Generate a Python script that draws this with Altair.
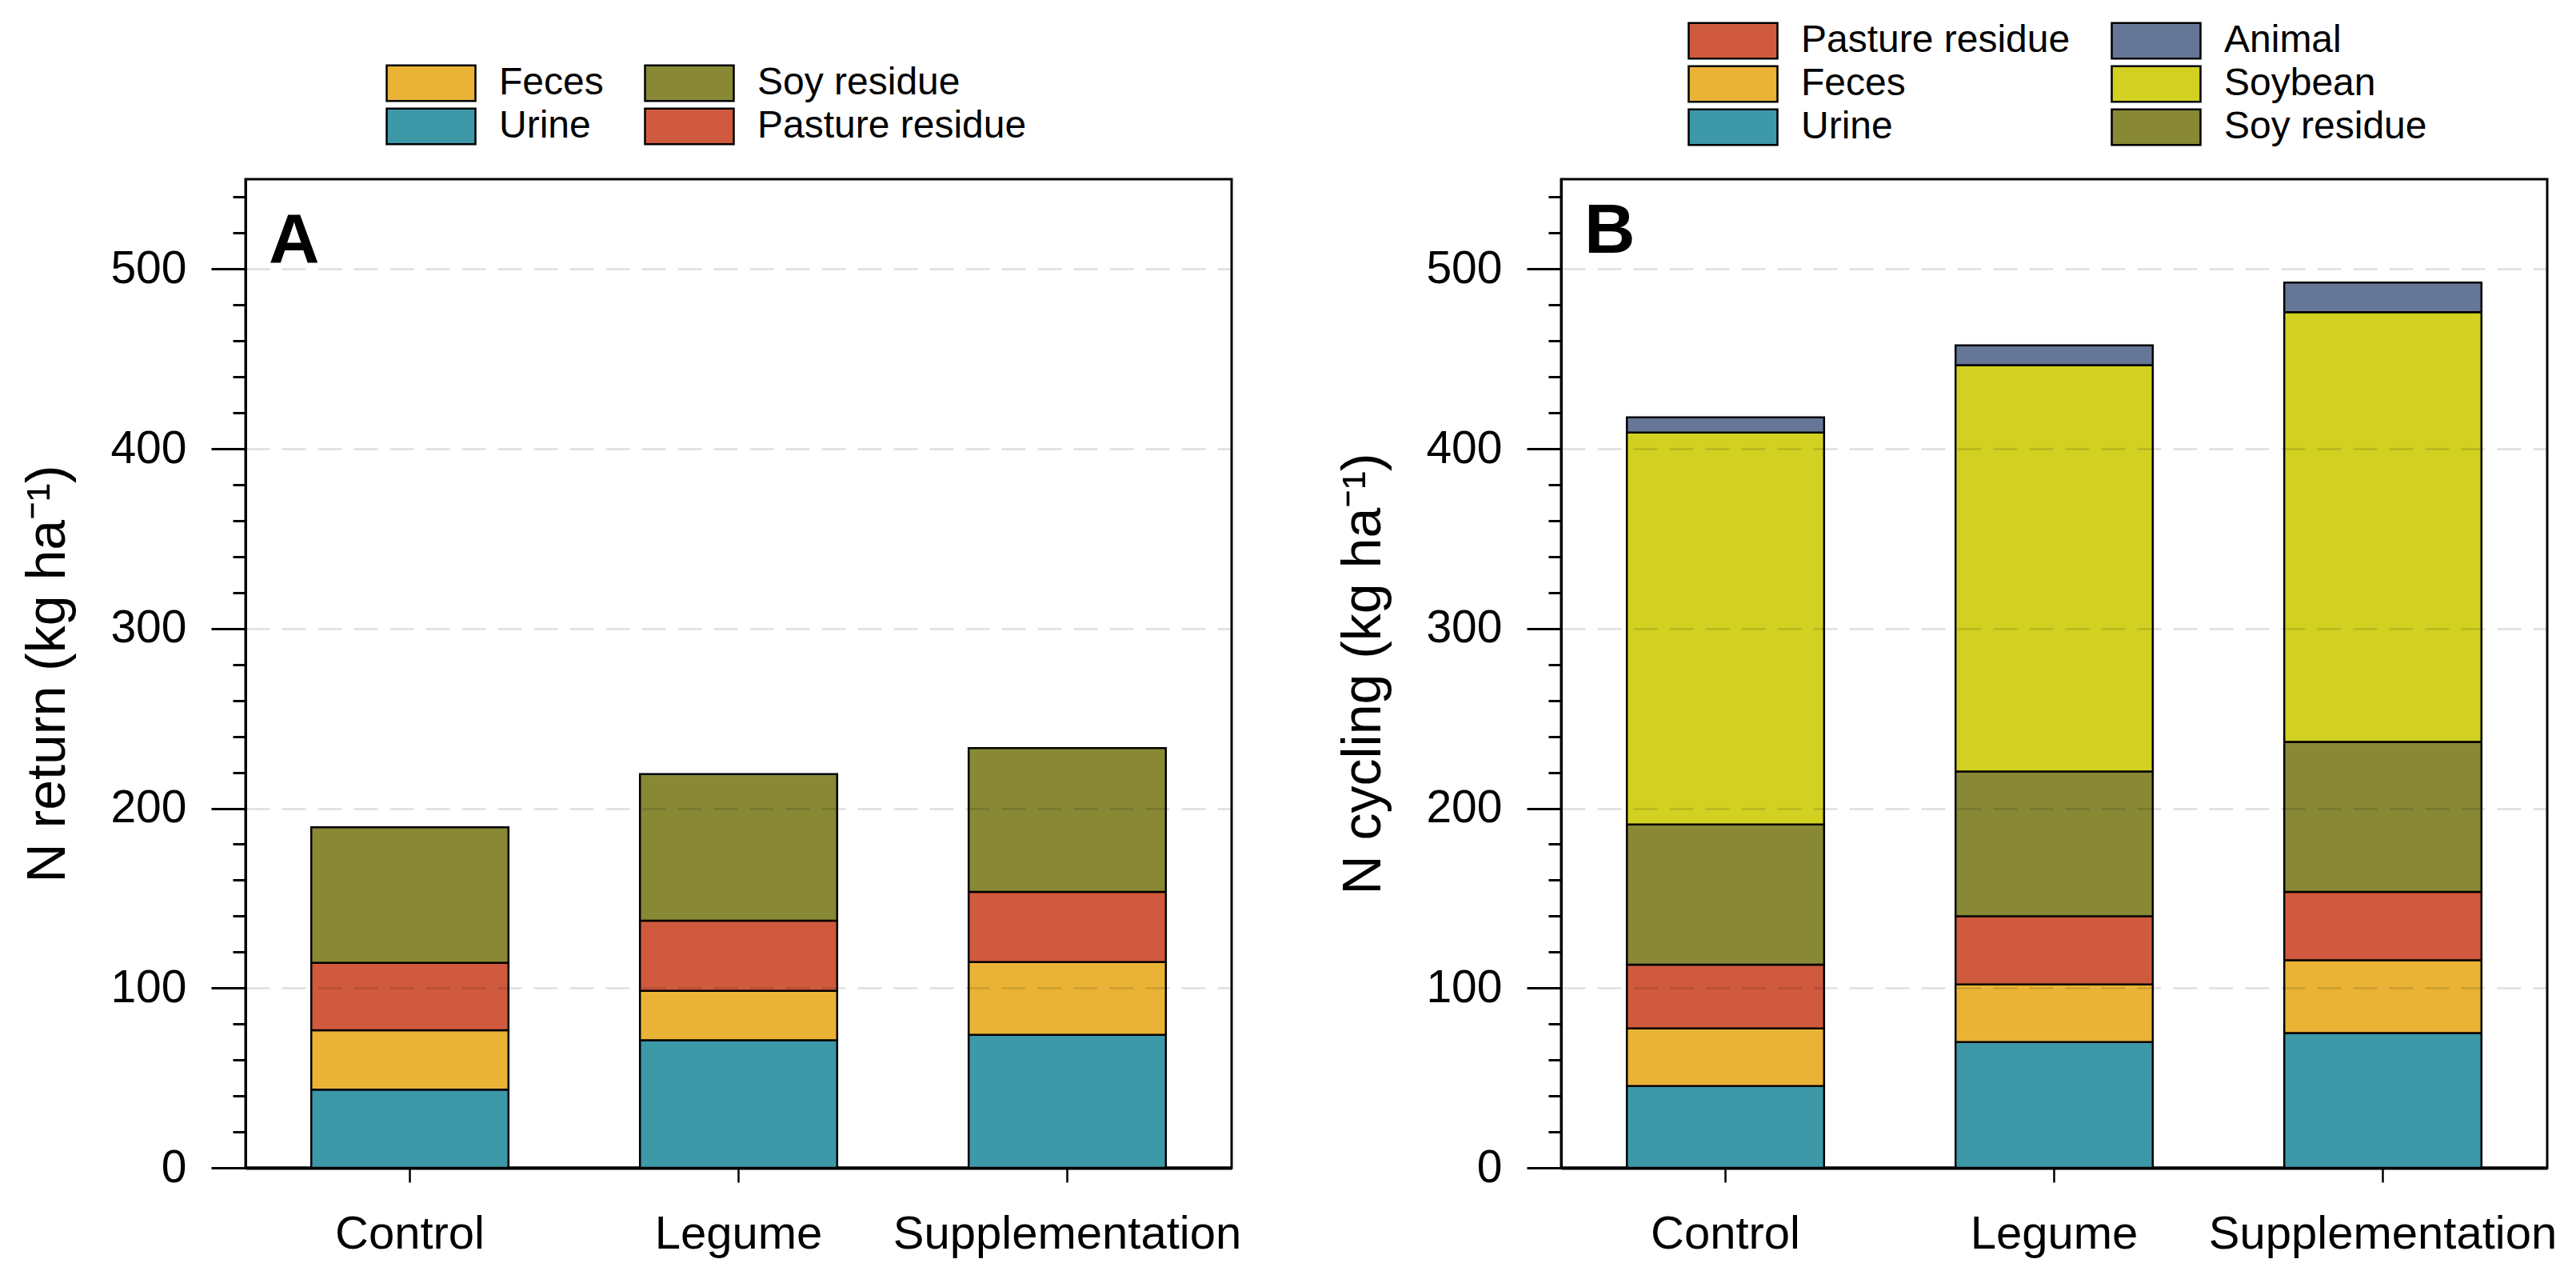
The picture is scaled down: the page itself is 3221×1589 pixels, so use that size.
import altair as alt
import pandas as pd

categories = ["Control", "Legume", "Supplementation"]

# Panel A: N return (kg ha-1), stacked bottom -> top
a_sources = ["Urine", "Feces", "Pasture residue", "Soy residue"]
a_urine = [43.5, 71.0, 74.0]
a_feces = [33.0, 27.5, 40.5]
a_pasture = [37.5, 39.0, 39.0]
a_soyres = [75.5, 81.5, 80.0]

# Panel B: N cycling (kg ha-1), stacked bottom -> top
b_sources = ["Urine", "Feces", "Pasture residue", "Soy residue", "Soybean", "Animal"]
b_urine = [45.5, 70.0, 75.0]
b_feces = [32.0, 32.0, 40.5]
b_pasture = [35.5, 38.0, 38.0]
b_soyres = [78.0, 80.5, 83.5]
b_soybean = [218.0, 226.0, 239.0]
b_animal = [8.5, 11.0, 16.5]

colors = {
    "Urine": "#3D98A8",
    "Feces": "#EAB336",
    "Pasture residue": "#D05A3E",
    "Soy residue": "#888835",
    "Soybean": "#D2D122",
    "Animal": "#667696",
}

# legend entries, column by column
a_legend_order = ["Feces", "Urine", "Soy residue", "Pasture residue"]
b_legend_order = ["Pasture residue", "Feces", "Urine", "Animal", "Soybean", "Soy residue"]

y_ticks = list(range(0, 551, 20))

FONT = "Liberation Sans"


def long_table(sources, series):
    rows = []
    for rank, (s, vals) in enumerate(zip(sources, series)):
        for c, v in zip(categories, vals):
            rows.append({"treatment": c, "source": s, "value": v, "rank": rank})
    return pd.DataFrame(rows)


df_a = long_table(a_sources, [a_urine, a_feces, a_pasture, a_soyres])
df_b = long_table(b_sources, [b_urine, b_feces, b_pasture, b_soyres, b_soybean, b_animal])

W, H = 1233, 1236


def panel(df, legend_order, ytitle, letter, letter_y, legend_x, legend_y):
    bars = alt.Chart(df).mark_bar(stroke="black", strokeWidth=2.5).encode(
        x=alt.X(
            "treatment:N",
            sort=categories,
            scale=alt.Scale(paddingInner=0.4, paddingOuter=0.2),
            axis=alt.Axis(
                title=None, labelAngle=0, labelFontSize=58, labelColor="black",
                labelFont=FONT, labelLimit=1000, tickSize=18, tickWidth=2.5,
                tickColor="black", domainWidth=4, domainColor="black",
                labelPadding=36, grid=False,
            ),
        ),
        y=alt.Y(
            "value:Q",
            stack="zero",
            scale=alt.Scale(domain=[0, 550], nice=False, zero=True),
            axis=alt.Axis(
                title=ytitle, values=y_ticks,
                labelExpr="datum.value % 100 === 0 ? datum.label : ''",
                labelOverlap=False,
                tickSize={"condition": {"test": "datum.value % 100 === 0", "value": 43}, "value": 16},
                tickWidth=3, tickColor="black",
                grid=True, gridColor="black", gridDash=[30, 15], gridWidth=2.5,
                gridOpacity={"condition": {"test": "datum.value % 100 === 0 && datum.value > 0", "value": 0.13}, "value": 0},
                labelFontSize=57, labelColor="black", labelFont=FONT, labelPadding=31,
                titleFontSize=68, titleFontWeight="normal", titleColor="black",
                titleFont=FONT, titlePadding=43,
                domainColor="black", domainWidth=3, zindex=1,
            ),
        ),
        color=alt.Color(
            "source:N",
            scale=alt.Scale(domain=legend_order, range=[colors[s] for s in legend_order]),
            legend=alt.Legend(
                title=None, orient="none", legendX=legend_x, legendY=legend_y,
                direction="vertical", columns=2, symbolType="M-1,-0.4H1V0.4H-1Z",
                symbolSize=12321, symbolStrokeColor="black", symbolStrokeWidth=2.5,
                symbolOpacity=1, labelFontSize=48, labelFont=FONT, labelColor="black",
                labelOffset=28, labelLimit=1000, columnPadding=50, rowPadding=6,
                clipHeight=48, padding=0,
            ),
        ),
        order=alt.Order("rank:Q", sort="ascending"),
    )
    text = alt.Chart(pd.DataFrame({"label": [letter]})).mark_text(
        fontSize=88, fontWeight="bold", font=FONT, align="left",
        baseline="alphabetic", color="black",
    ).encode(text="label:N", x=alt.value(29), y=alt.value(letter_y))
    return alt.layer(bars, text).properties(width=W, height=H)


pa = panel(df_a, a_legend_order, "N return (kg ha⁻¹)", "A", 104, 175, -144)
pb = panel(df_b, b_legend_order, "N cycling (kg ha⁻¹)", "B", 92, 158, -197)

chart = (
    alt.hconcat(pa, pb, spacing=116)
    .resolve_scale(color="independent")
    .properties(padding={"left": 17, "top": 17, "right": 5, "bottom": 5})
    .configure(font=FONT)
    .configure_view(stroke="black", strokeWidth=3)
)

chart.save("out.html", embed_options={"renderer": "svg", "actions": False})
